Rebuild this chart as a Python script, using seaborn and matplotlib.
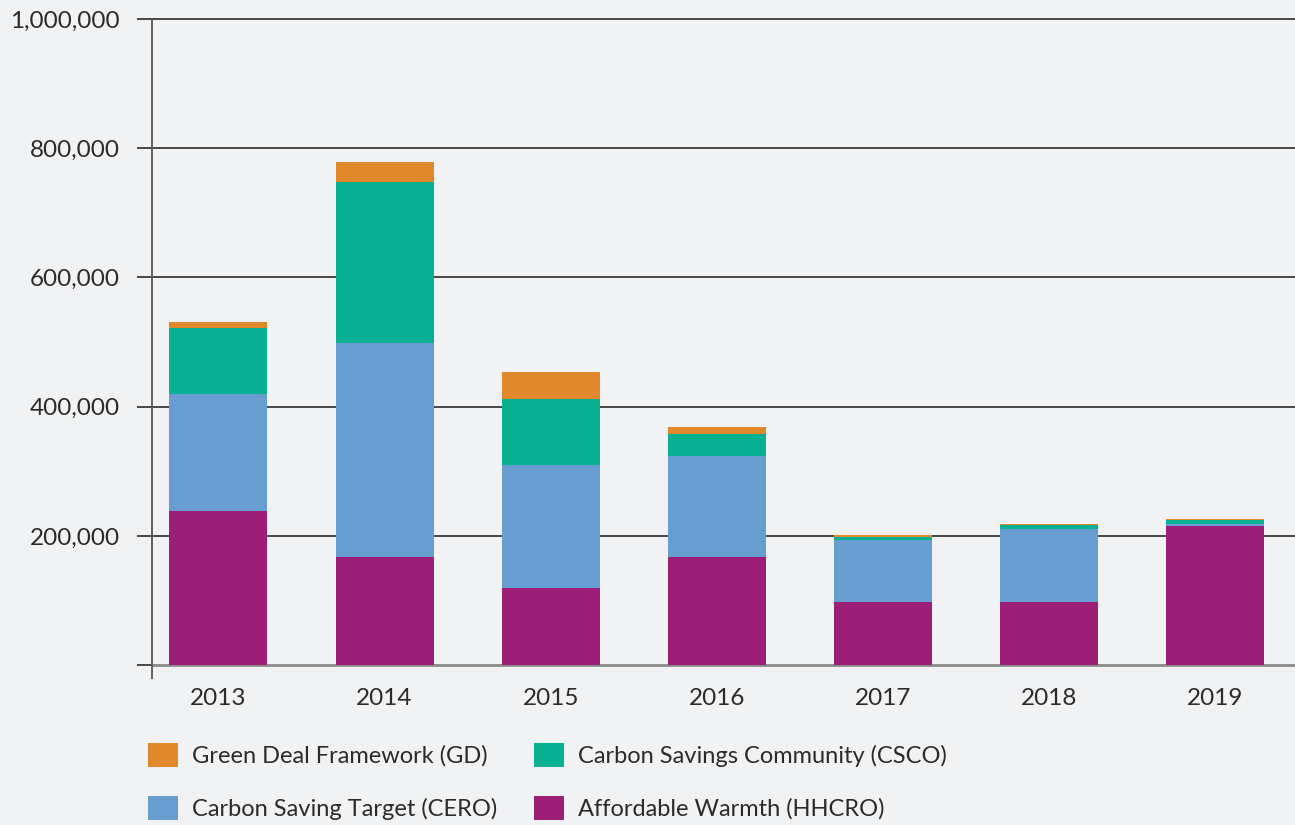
import matplotlib
matplotlib.use("Agg")
import matplotlib.pyplot as plt
import seaborn as sns
import numpy as np
import pandas as pd
from matplotlib.patches import Patch

years = ["2013", "2014", "2015", "2016", "2017", "2018", "2019"]
hhcro = [239000, 168000, 120000, 168000, 97000, 97000, 216000]
cero = [181000, 330000, 189000, 156000, 97000, 113000, 3000]
csco = [101000, 250000, 103000, 34000, 5000, 6500, 6000]
gd = [10000, 31000, 42000, 10000, 2000, 1500, 1500]

colors = {"Affordable Warmth (HHCRO)": "#9C1E76",
          "Carbon Saving Target (CERO)": "#679DD0",
          "Carbon Savings Community (CSCO)": "#0AB092",
          "Green Deal Framework (GD)": "#E1882A"}

bg = "#F1F2F4"
txt = "#2b2b2b"
sns.set_theme(style="white")
plt.rcParams["font.family"] = ["Lato", "DejaVu Sans"]

fig = plt.figure(figsize=(12.95, 8.25), dpi=100, facecolor=bg)
W, H = 1295, 825
ax = fig.add_axes([152 / W, (H - 678) / H, (W - 152) / W, (678 - 19) / H])
ax.set_facecolor(bg)

df = pd.DataFrame({"year": years, "HHCRO": hhcro, "CERO": cero, "CSCO": csco, "GD": gd})
layers = [("GD", "Green Deal Framework (GD)"),
          ("CSCO", "Carbon Savings Community (CSCO)"),
          ("CERO", "Carbon Saving Target (CERO)"),
          ("HHCRO", "Affordable Warmth (HHCRO)")]
order_bottom_up = ["HHCRO", "CERO", "CSCO", "GD"]
for key, name in layers:
    idx = order_bottom_up.index(key)
    cum = df[order_bottom_up[: idx + 1]].sum(axis=1)
    sns.barplot(x=df["year"], y=cum, color=colors[name], width=0.59,
                saturation=1, ax=ax, zorder=3, linewidth=0)

ax.set_xlim(-0.40, 6.48)
ax.set_ylim(-20000, 1000000)
ax.set_xlabel("")
ax.set_ylabel("")

yt = [0, 200000, 400000, 600000, 800000, 1000000]
ax.set_yticks(yt)
ax.set_yticklabels([""] + [f"{v:,}" for v in yt[1:]])
for v in yt[1:]:
    ax.axhline(v, color="#3a3a3a", lw=1.3, zorder=1, clip_on=False)
ax.axhline(0, color="#8a8a8a", lw=2.0, zorder=1)

ax.tick_params(axis="y", length=11, width=1.3, color="#3a3a3a", pad=12,
               labelsize=17.5, labelcolor=txt, left=True)
ax.tick_params(axis="x", length=0, pad=7, labelsize=17.5, labelcolor=txt)

for s in ["top", "right", "bottom"]:
    ax.spines[s].set_visible(False)
ax.spines["left"].set_color("#555555")
ax.spines["left"].set_linewidth(1.3)
ax.spines["left"].set_zorder(4)

labels = ["Green Deal Framework (GD)", "Carbon Saving Target (CERO)",
          "Carbon Savings Community (CSCO)", "Affordable Warmth (HHCRO)"]
handles = [Patch(facecolor=colors[n], edgecolor="none") for n in labels]
leg = fig.legend(handles, labels, ncol=2, loc="upper left",
                 bbox_to_anchor=(148 / W, (H - 743) / H), frameon=False,
                 fontsize=17, handlelength=1.25, handleheight=1.2,
                 handletextpad=0.6, columnspacing=1.57, labelspacing=1.2,
                 borderaxespad=0, borderpad=0)
for t in leg.get_texts():
    t.set_color(txt)

fig.savefig("out.png", dpi=100, facecolor=bg)
